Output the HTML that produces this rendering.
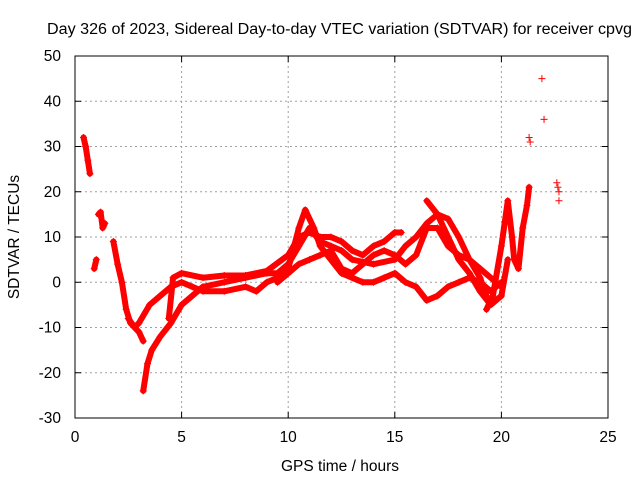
<!DOCTYPE html>
<html><head><meta charset="utf-8"><style>
body{margin:0;background:#fff}
svg{display:block;font-family:"Liberation Sans",sans-serif}
</style></head><body>
<svg id="chart" width="640" height="480" viewBox="0 0 640 480">
<rect width="640" height="480" fill="#fff"/>
<text x="47" y="34" font-size="15.5" textLength="585" lengthAdjust="spacingAndGlyphs">Day 326 of 2023, Sidereal Day-to-day VTEC variation (SDTVAR) for receiver cpvg</text>
<text x="340" y="471" font-size="15.5" text-anchor="middle">GPS time / hours</text>
<text transform="translate(19,237) rotate(-90)" font-size="15.5" text-anchor="middle">SDTVAR / TECUs</text>
<g id="grid"></g><g id="ticks"></g><g id="marks"></g>
<rect x="75" y="56" width="533" height="362" fill="none" stroke="#000"/>
</svg>
<script>
const xTicks=[0,5,10,15,20,25];
const yTicks=[-30,-20,-10,0,10,20,30,40,50];
const seriesStart1=[[0.4,32],[0.5,30],[0.6,27],[0.7,24]];
const seriesStart2=[[0.9,3],[1.0,5]];
const seriesStart3=[[1.1,15],[1.2,15.5],[1.3,12],[1.4,13]];
const seriesDrop=[[1.8,9],[2,4],[2.2,0],[2.4,-6],[2.6,-9],[2.8,-10],[3,-11],[3.2,-13]];
const seriesA=[[3.2,-24],[3.4,-18],[3.6,-15],[4,-12],[4.5,-9],[5,-5],[5.5,-3],[6,-1],[7,0],[8,1],[9,2],[9.5,2],[10,4],[10.5,8],[11,12],[11.5,9],[12,8],[12.5,7],[13,5],[14,4],[15,5],[15.5,8],[16,10],[16.5,13],[17,15],[17.5,14],[18,10],[18.5,5],[19,1],[19.3,-3]];
const seriesB=[[2.5,-8],[2.8,-10],[3,-9],[3.5,-5],[4,-3],[4.5,-1],[5,0],[5.5,-1],[6,-2],[7,-2],[8,-1],[8.5,-2],[9,0],[9.5,1],[10,3],[10.5,12],[10.8,16],[11.2,12],[11.5,8],[12,5],[12.5,2],[13,1],[13.5,0],[14,0],[14.5,1],[15,2],[15.5,0],[16,-1],[16.5,-4],[17,-3],[17.5,-1],[18,0],[18.5,1],[19,0],[19.5,-2],[20,0]];
const seriesC=[[4.4,-8],[4.6,1],[5,2],[6,1],[7,1.5],[8,1.5],[9,2.5],[10,6],[10.5,10],[11,11],[11.5,10],[12,10],[12.5,9],[13,7],[13.5,6],[14,8],[14.5,9],[15,11],[15.3,11]];
const seriesD=[[9.5,0],[10,2],[10.5,4],[11,5],[11.5,6],[12,7],[12.5,3],[13,2],[13.5,4],[14,6],[14.5,7],[15,6],[15.5,4],[16,6],[16.5,12],[17,12],[17.5,8],[18,6],[18.5,5],[19,3],[19.5,1],[20,-1]];
const seriesE=[[16.5,18],[17,15],[17.5,10],[18,5],[18.5,2],[19,-2],[19.5,-5],[20,-3],[20.3,5]];
const seriesF=[[19.3,-6],[19.6,-3],[20,8],[20.3,18],[20.5,10],[20.6,5],[20.8,3],[21,12],[21.2,17],[21.3,21]];
const isolated=[[21.3,32],[21.35,31],[21.9,45],[22.0,36],[22.6,22],[22.65,21],[22.7,20],[22.7,18]];
const tracks=[seriesStart1,seriesStart2,seriesStart3,seriesDrop,seriesA,seriesB,seriesC,seriesD,seriesE,seriesF];

const NS="http://www.w3.org/2000/svg";
const X0=75,X1=608,Y0=418,Y1=56,xmin=0,xmax=25,ymin=-30,ymax=50;
const sx=v=>X0+(v-xmin)/(xmax-xmin)*(X1-X0);
const sy=v=>Y0-(v-ymin)/(ymax-ymin)*(Y0-Y1);
function mk(tag,attrs,parent){const e=document.createElementNS(NS,tag);for(const k in attrs)e.setAttribute(k,attrs[k]);parent.appendChild(e);return e;}
const grid=document.getElementById('grid'),ticks=document.getElementById('ticks'),marks=document.getElementById('marks');
xTicks.forEach(t=>{const x=sx(t);
 if(t>xmin&&t<xmax){const g=mk('line',{x1:x,x2:x,y1:Y0,y2:Y1,stroke:'#a0a0a0','stroke-dasharray':'2,3'},grid);
 
 }
 mk('line',{x1:x,x2:x,y1:Y0,y2:Y0-6,stroke:'#000'},ticks);mk('line',{x1:x,x2:x,y1:Y1,y2:Y1+6,stroke:'#000'},ticks);
 const l=mk('text',{x:x,y:Y0+24,'font-size':15.5,'text-anchor':'middle'},ticks);l.textContent=t;
 
 });
yTicks.forEach(t=>{const y=sy(t);
 if(t>ymin&&t<ymax){const g=mk('line',{x1:X0,x2:X1,y1:y,y2:y,stroke:'#a0a0a0','stroke-dasharray':'2,3'},grid);
 
 }
 mk('line',{x1:X0,x2:X0+6,y1:y,y2:y,stroke:'#000'},ticks);mk('line',{x1:X1,x2:X1-6,y1:y,y2:y,stroke:'#000'},ticks);
 const l=mk('text',{x:X0-14,y:y+5,'font-size':15.5,'text-anchor':'end'},ticks);l.textContent=t;
 
 });
function plus(p,parent){const x=sx(p[0]),y=sy(p[1]);
 const e=mk('path',{d:`M${x-3.5},${y}h7M${x},${y-3.5}v7`,stroke:'#f00','stroke-width':1},parent);
 
 }
tracks.forEach((tr,i)=>{
 const g=mk('g',{},marks);
 
 
 mk('polyline',{points:tr.map(p=>sx(p[0])+','+sy(p[1])).join(' '),fill:'none',stroke:'#f00','stroke-width':6,'stroke-linejoin':'round','stroke-linecap':'round'},g);
 tr.forEach(p=>plus(p,g));
});
const ig=mk('g',{},marks);


isolated.forEach(p=>plus(p,ig));
</script>
</body></html>
